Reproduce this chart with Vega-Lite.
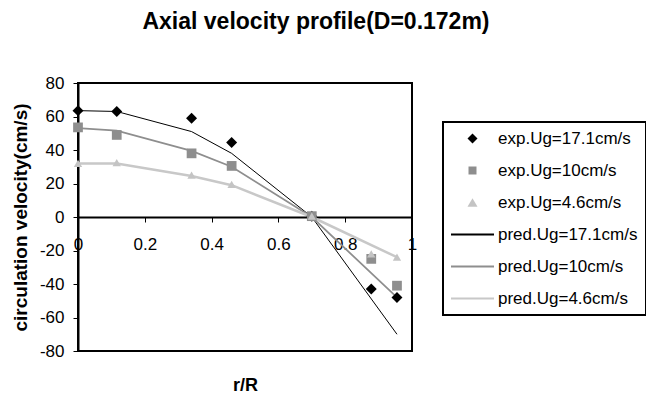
{
  "$schema": "https://vega.github.io/schema/vega-lite/v6.json",
  "width": 334,
  "height": 268,
  "autosize": "none",
  "padding": {"left": 78, "top": 83, "right": 234, "bottom": 42},
  "background": "white",
  "config": {
    "font": "Liberation Sans",
    "view": {"stroke": "black", "strokeWidth": 2},
    "axis": {"grid": false, "domainColor": "black", "domainWidth": 2, "tickColor": "black", "tickWidth": 1, "labelColor": "black", "labelFont": "Liberation Sans", "labelFontSize": 17, "titleFont": "Liberation Sans", "titleFontWeight": "bold", "titleColor": "black"}
  },
  "title": {"text": "Axial velocity profile(D=0.172m)", "fontSize": 23, "font": "Liberation Sans", "fontWeight": "bold", "color": "black", "anchor": "middle", "frame": "group", "dx": 71, "dy": 22, "baseline": "alphabetic", "offset": 44},
  "data": {"values": [
    {"series": "pred.Ug=17.1cm/s", "kind": "pred", "r": 0, "v": 63.5},
    {"series": "pred.Ug=17.1cm/s", "kind": "pred", "r": 0.116, "v": 63},
    {"series": "pred.Ug=17.1cm/s", "kind": "pred", "r": 0.34, "v": 51},
    {"series": "pred.Ug=17.1cm/s", "kind": "pred", "r": 0.46, "v": 38},
    {"series": "pred.Ug=17.1cm/s", "kind": "pred", "r": 0.70, "v": 0},
    {"series": "pred.Ug=17.1cm/s", "kind": "pred", "r": 0.955, "v": -70},
    {"series": "pred.Ug=10cm/s", "kind": "pred", "r": 0, "v": 53},
    {"series": "pred.Ug=10cm/s", "kind": "pred", "r": 0.116, "v": 51.5},
    {"series": "pred.Ug=10cm/s", "kind": "pred", "r": 0.34, "v": 39.5},
    {"series": "pred.Ug=10cm/s", "kind": "pred", "r": 0.46, "v": 30},
    {"series": "pred.Ug=10cm/s", "kind": "pred", "r": 0.70, "v": 0},
    {"series": "pred.Ug=10cm/s", "kind": "pred", "r": 0.955, "v": -48},
    {"series": "pred.Ug=4.6cm/s", "kind": "pred", "r": 0, "v": 32},
    {"series": "pred.Ug=4.6cm/s", "kind": "pred", "r": 0.116, "v": 32},
    {"series": "pred.Ug=4.6cm/s", "kind": "pred", "r": 0.34, "v": 24.5},
    {"series": "pred.Ug=4.6cm/s", "kind": "pred", "r": 0.46, "v": 19},
    {"series": "pred.Ug=4.6cm/s", "kind": "pred", "r": 0.70, "v": 0},
    {"series": "pred.Ug=4.6cm/s", "kind": "pred", "r": 0.955, "v": -24},
    {"series": "exp.Ug=17.1cm/s", "kind": "exp", "r": 0, "v": 63.5},
    {"series": "exp.Ug=17.1cm/s", "kind": "exp", "r": 0.116, "v": 63},
    {"series": "exp.Ug=17.1cm/s", "kind": "exp", "r": 0.34, "v": 59},
    {"series": "exp.Ug=17.1cm/s", "kind": "exp", "r": 0.46, "v": 44.5},
    {"series": "exp.Ug=17.1cm/s", "kind": "exp", "r": 0.70, "v": 0.5},
    {"series": "exp.Ug=17.1cm/s", "kind": "exp", "r": 0.878, "v": -43},
    {"series": "exp.Ug=17.1cm/s", "kind": "exp", "r": 0.955, "v": -48},
    {"series": "exp.Ug=10cm/s", "kind": "exp", "r": 0, "v": 53.5},
    {"series": "exp.Ug=10cm/s", "kind": "exp", "r": 0.116, "v": 49},
    {"series": "exp.Ug=10cm/s", "kind": "exp", "r": 0.34, "v": 38},
    {"series": "exp.Ug=10cm/s", "kind": "exp", "r": 0.46, "v": 30.5},
    {"series": "exp.Ug=10cm/s", "kind": "exp", "r": 0.70, "v": 0.5},
    {"series": "exp.Ug=10cm/s", "kind": "exp", "r": 0.878, "v": -25},
    {"series": "exp.Ug=10cm/s", "kind": "exp", "r": 0.955, "v": -41},
    {"series": "exp.Ug=4.6cm/s", "kind": "exp", "r": 0, "v": 32},
    {"series": "exp.Ug=4.6cm/s", "kind": "exp", "r": 0.116, "v": 32.5},
    {"series": "exp.Ug=4.6cm/s", "kind": "exp", "r": 0.34, "v": 25},
    {"series": "exp.Ug=4.6cm/s", "kind": "exp", "r": 0.46, "v": 19.5},
    {"series": "exp.Ug=4.6cm/s", "kind": "exp", "r": 0.70, "v": 0.5},
    {"series": "exp.Ug=4.6cm/s", "kind": "exp", "r": 0.878, "v": -22},
    {"series": "exp.Ug=4.6cm/s", "kind": "exp", "r": 0.955, "v": -24}
  ]},
  "encoding": {
    "x": {"field": "r", "type": "quantitative",
      "scale": {"domain": [0, 1], "nice": false, "zero": false},
      "axis": {"title": "r/R", "values": [0, 0.2, 0.4, 0.6, 0.8, 1], "format": "~g", "offset": -134, "tickSize": 5, "labelPadding": 14, "labelFlush": false, "labelOverlap": false, "titleFontSize": 18, "titleBaseline": "alphabetic", "titleY": 173}},
    "y": {"field": "v", "type": "quantitative",
      "scale": {"domain": [-80, 80], "nice": false},
      "axis": {"title": "circulation velocity(cm/s)", "values": [-80, -60, -40, -20, 0, 20, 40, 60, 80], "labelExpr": "'' + datum.value", "tickSize": 5, "labelPadding": 9, "labelOverlap": false, "titleFontSize": 19, "titleX": -58, "titleY": 134, "titleBaseline": "middle", "titleAlign": "center", "titleAngle": -90}}
  },
  "layer": [
    {
      "transform": [{"filter": "datum.kind == 'pred'"}],
      "mark": {"type": "line", "interpolate": "linear"},
      "encoding": {
        "color": {"field": "series", "type": "nominal",
          "scale": {"domain": ["exp.Ug=17.1cm/s", "exp.Ug=10cm/s", "exp.Ug=4.6cm/s", "pred.Ug=17.1cm/s", "pred.Ug=10cm/s", "pred.Ug=4.6cm/s"],
                    "range": ["#000000", "#8e8e8e", "#c4c4c4", "#000000", "#8e8e8e", "#c8c8c8"]}},
        "strokeWidth": {"field": "series", "type": "nominal",
          "scale": {"domain": ["pred.Ug=17.1cm/s", "pred.Ug=10cm/s", "pred.Ug=4.6cm/s"], "range": [1, 2.5, 2.5]}, "legend": null},
        "order": {"field": "r", "type": "quantitative"}
      }
    },
    {
      "transform": [{"filter": "datum.kind == 'exp'"}],
      "mark": {"type": "point", "filled": true, "opacity": 1, "strokeWidth": 0},
      "encoding": {
        "color": {"field": "series", "type": "nominal",
          "legend": {"title": null, "orient": "none", "legendX": 365, "legendY": 39, "padding": 8,
            "strokeColor": "black", "fillColor": "white",
            "labelFont": "Liberation Sans", "labelFontSize": 17, "labelColor": "black", "labelLimit": 300,
            "rowPadding": 14, "labelOffset": 17, "symbolOffset": 13, "symbolOpacity": 1,
            "encode": {
              "legend": {"update": {"strokeWidth": {"value": 2}}},
              "symbols": {"update": {
                "stroke": {"scale": "color", "field": "value"},
                "strokeWidth": {"signal": "test(/^pred/, datum.value) ? 2 : 0"},
                "size": {"signal": "test(/^pred/, datum.value) ? 1849 : (datum.value == 'exp.Ug=10cm/s' ? 64 : 100)"}}}}}},
        "shape": {"field": "series", "type": "nominal",
          "scale": {"domain": ["exp.Ug=17.1cm/s", "exp.Ug=10cm/s", "exp.Ug=4.6cm/s", "pred.Ug=17.1cm/s", "pred.Ug=10cm/s", "pred.Ug=4.6cm/s"],
                    "range": ["diamond", "square", "triangle-up", "M-1,0H1", "M-1,0H1", "M-1,0H1"]}},
        "size": {"field": "series", "type": "nominal", "legend": null,
          "scale": {"domain": ["exp.Ug=17.1cm/s", "exp.Ug=10cm/s", "exp.Ug=4.6cm/s"],
                    "range": [120, 70, 85]}}
      }
    }
  ]
}
